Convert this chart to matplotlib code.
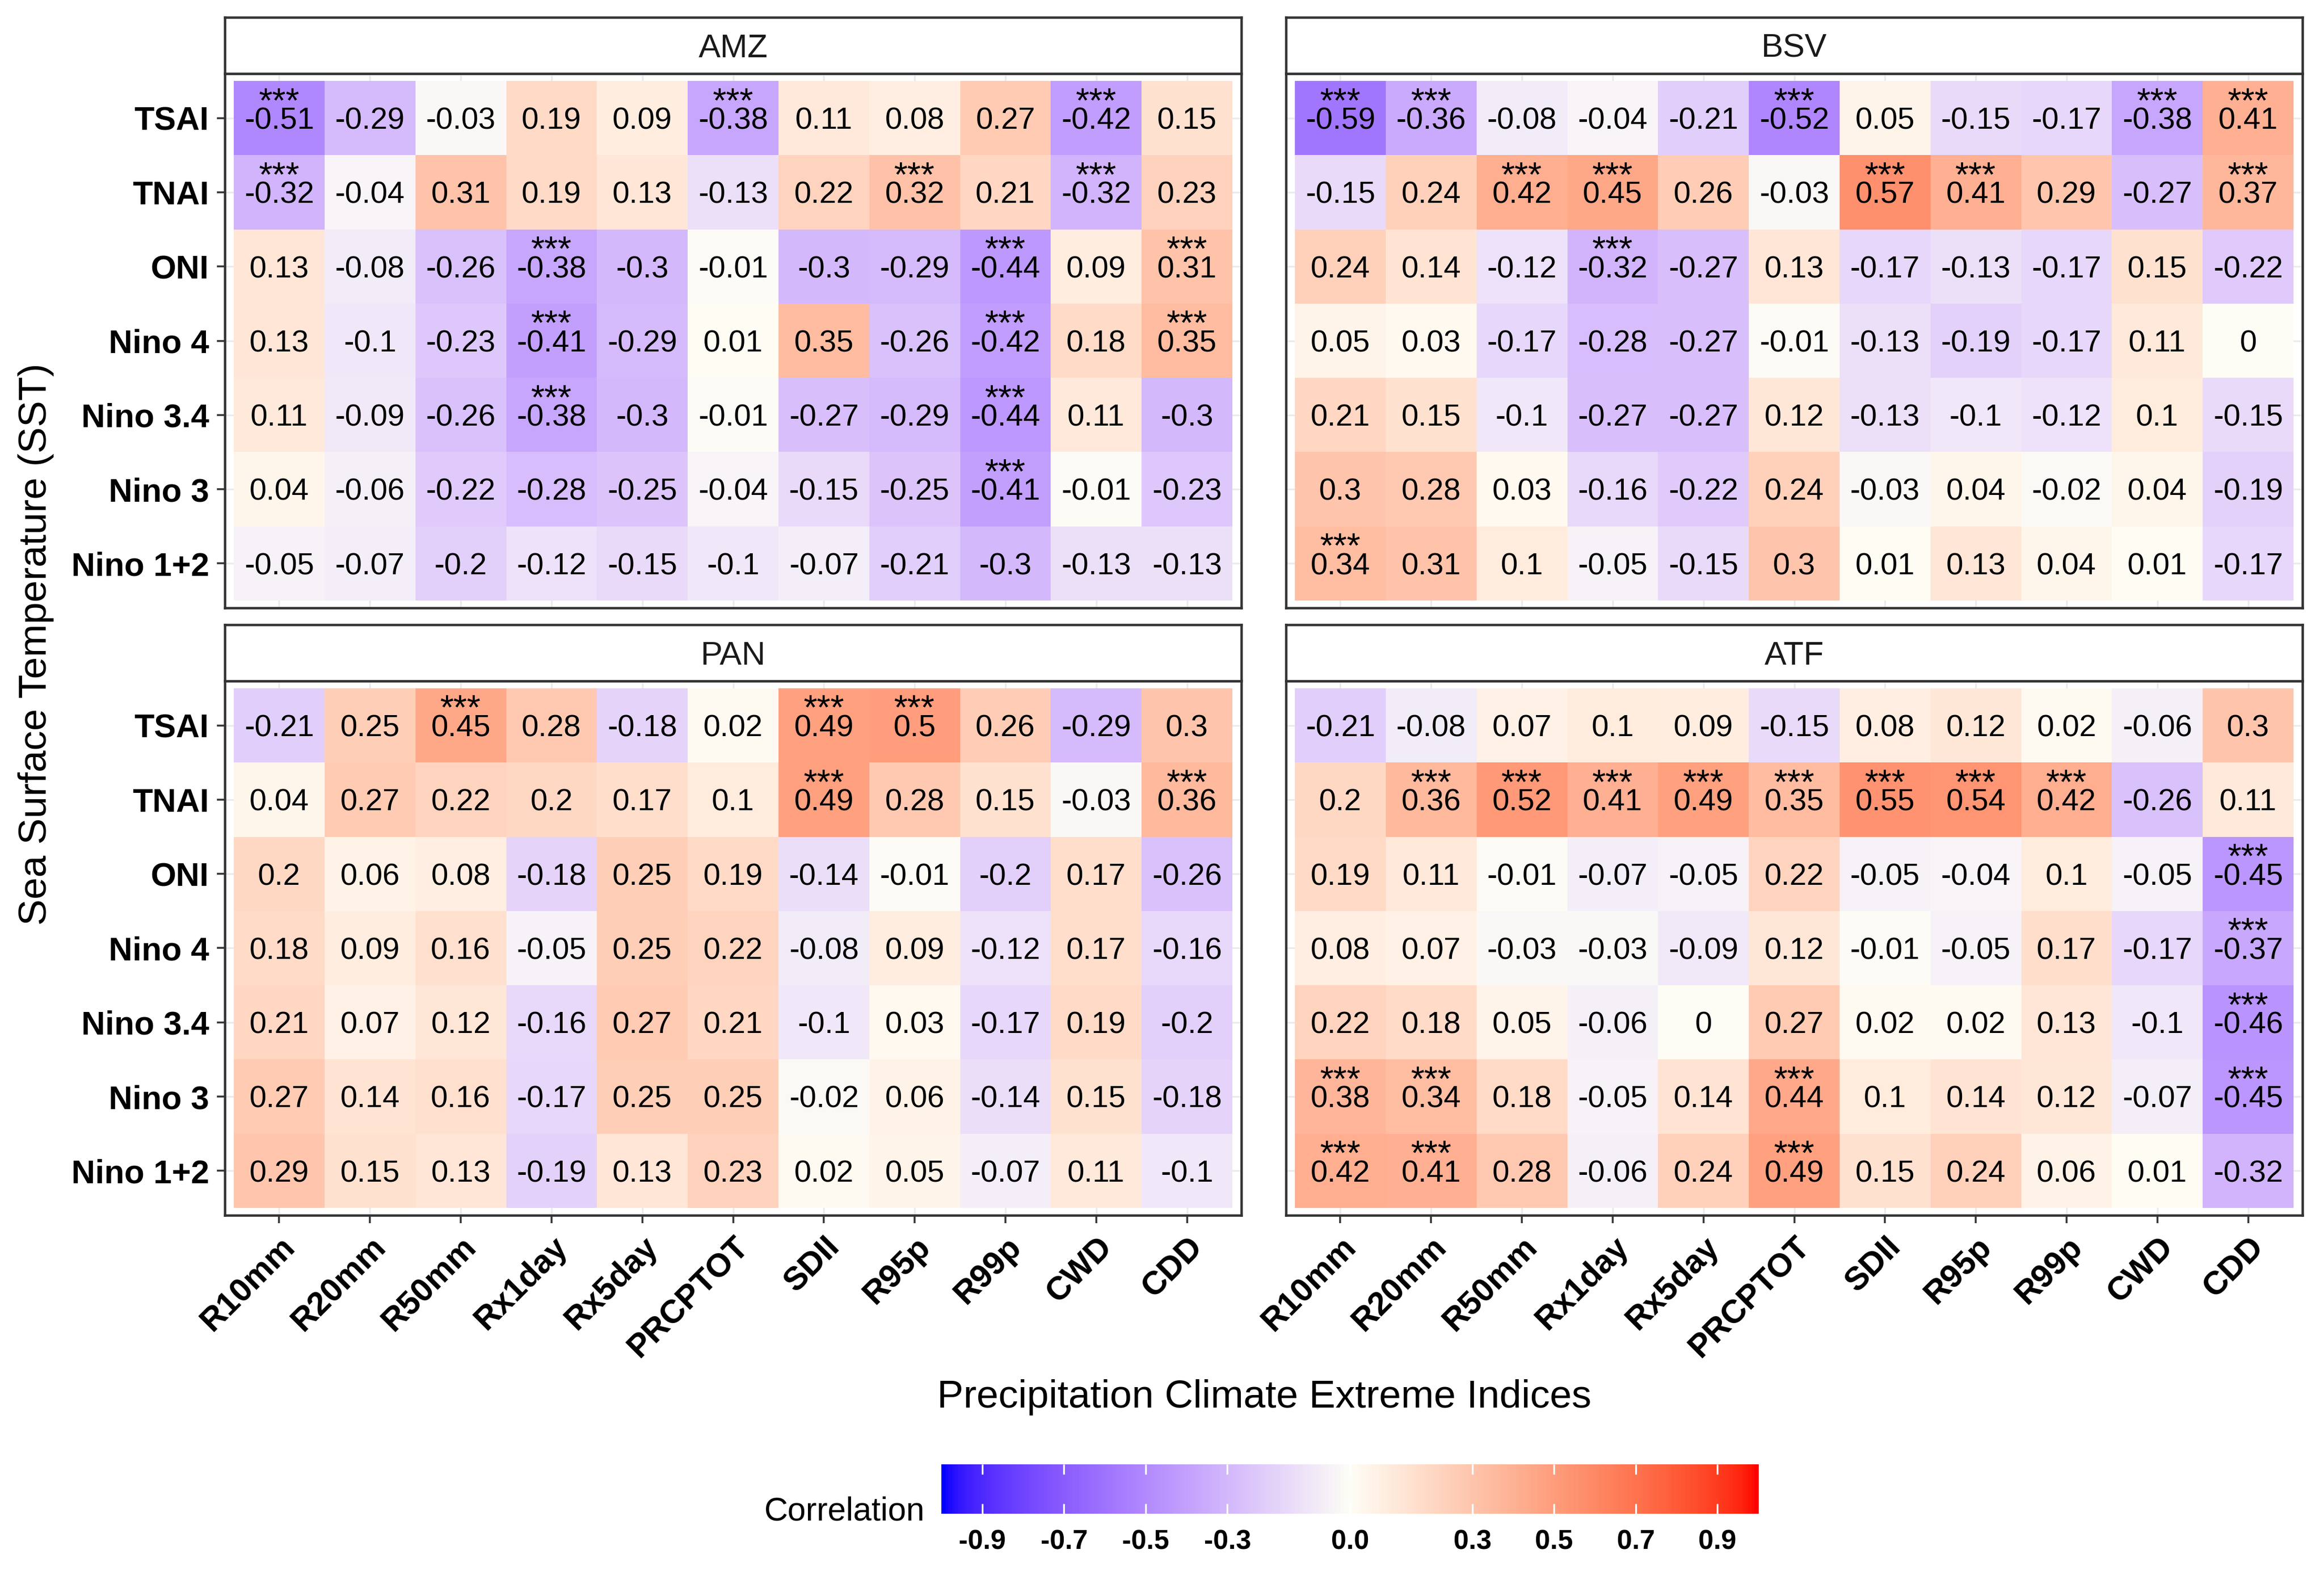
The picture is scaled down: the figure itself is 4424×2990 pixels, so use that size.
import matplotlib.pyplot as plt
import numpy as np
from matplotlib.colors import ListedColormap, Normalize, to_rgb

plt.rcParams['font.family'] = ['Liberation Sans', 'DejaVu Sans']

# Data
indices = ['R10mm', 'R20mm', 'R50mm', 'Rx1day', 'Rx5day', 'PRCPTOT',
           'SDII', 'R95p', 'R99p', 'CWD', 'CDD']
sst = ['TSAI', 'TNAI', 'ONI', 'Nino 4', 'Nino 3.4', 'Nino 3', 'Nino 1+2']
regions = ['AMZ', 'BSV', 'PAN', 'ATF']

amz = [[-0.51, -0.29, -0.03, 0.19, 0.09, -0.38, 0.11, 0.08, 0.27, -0.42, 0.15],
       [-0.32, -0.04, 0.31, 0.19, 0.13, -0.13, 0.22, 0.32, 0.21, -0.32, 0.23],
       [0.13, -0.08, -0.26, -0.38, -0.3, -0.01, -0.3, -0.29, -0.44, 0.09, 0.31],
       [0.13, -0.1, -0.23, -0.41, -0.29, 0.01, 0.35, -0.26, -0.42, 0.18, 0.35],
       [0.11, -0.09, -0.26, -0.38, -0.3, -0.01, -0.27, -0.29, -0.44, 0.11, -0.3],
       [0.04, -0.06, -0.22, -0.28, -0.25, -0.04, -0.15, -0.25, -0.41, -0.01, -0.23],
       [-0.05, -0.07, -0.2, -0.12, -0.15, -0.1, -0.07, -0.21, -0.3, -0.13, -0.13]]
amz_sig = [[1, 0, 0, 0, 0, 1, 0, 0, 0, 1, 0],
           [1, 0, 0, 0, 0, 0, 0, 1, 0, 1, 0],
           [0, 0, 0, 1, 0, 0, 0, 0, 1, 0, 1],
           [0, 0, 0, 1, 0, 0, 0, 0, 1, 0, 1],
           [0, 0, 0, 1, 0, 0, 0, 0, 1, 0, 0],
           [0, 0, 0, 0, 0, 0, 0, 0, 1, 0, 0],
           [0, 0, 0, 0, 0, 0, 0, 0, 0, 0, 0]]

bsv = [[-0.59, -0.36, -0.08, -0.04, -0.21, -0.52, 0.05, -0.15, -0.17, -0.38, 0.41],
       [-0.15, 0.24, 0.42, 0.45, 0.26, -0.03, 0.57, 0.41, 0.29, -0.27, 0.37],
       [0.24, 0.14, -0.12, -0.32, -0.27, 0.13, -0.17, -0.13, -0.17, 0.15, -0.22],
       [0.05, 0.03, -0.17, -0.28, -0.27, -0.01, -0.13, -0.19, -0.17, 0.11, 0],
       [0.21, 0.15, -0.1, -0.27, -0.27, 0.12, -0.13, -0.1, -0.12, 0.1, -0.15],
       [0.3, 0.28, 0.03, -0.16, -0.22, 0.24, -0.03, 0.04, -0.02, 0.04, -0.19],
       [0.34, 0.31, 0.1, -0.05, -0.15, 0.3, 0.01, 0.13, 0.04, 0.01, -0.17]]
bsv_sig = [[1, 1, 0, 0, 0, 1, 0, 0, 0, 1, 1],
           [0, 0, 1, 1, 0, 0, 1, 1, 0, 0, 1],
           [0, 0, 0, 1, 0, 0, 0, 0, 0, 0, 0],
           [0, 0, 0, 0, 0, 0, 0, 0, 0, 0, 0],
           [0, 0, 0, 0, 0, 0, 0, 0, 0, 0, 0],
           [0, 0, 0, 0, 0, 0, 0, 0, 0, 0, 0],
           [1, 0, 0, 0, 0, 0, 0, 0, 0, 0, 0]]

pan = [[-0.21, 0.25, 0.45, 0.28, -0.18, 0.02, 0.49, 0.5, 0.26, -0.29, 0.3],
       [0.04, 0.27, 0.22, 0.2, 0.17, 0.1, 0.49, 0.28, 0.15, -0.03, 0.36],
       [0.2, 0.06, 0.08, -0.18, 0.25, 0.19, -0.14, -0.01, -0.2, 0.17, -0.26],
       [0.18, 0.09, 0.16, -0.05, 0.25, 0.22, -0.08, 0.09, -0.12, 0.17, -0.16],
       [0.21, 0.07, 0.12, -0.16, 0.27, 0.21, -0.1, 0.03, -0.17, 0.19, -0.2],
       [0.27, 0.14, 0.16, -0.17, 0.25, 0.25, -0.02, 0.06, -0.14, 0.15, -0.18],
       [0.29, 0.15, 0.13, -0.19, 0.13, 0.23, 0.02, 0.05, -0.07, 0.11, -0.1]]
pan_sig = [[0, 0, 1, 0, 0, 0, 1, 1, 0, 0, 0],
           [0, 0, 0, 0, 0, 0, 1, 0, 0, 0, 1],
           [0, 0, 0, 0, 0, 0, 0, 0, 0, 0, 0],
           [0, 0, 0, 0, 0, 0, 0, 0, 0, 0, 0],
           [0, 0, 0, 0, 0, 0, 0, 0, 0, 0, 0],
           [0, 0, 0, 0, 0, 0, 0, 0, 0, 0, 0],
           [0, 0, 0, 0, 0, 0, 0, 0, 0, 0, 0]]

atf = [[-0.21, -0.08, 0.07, 0.1, 0.09, -0.15, 0.08, 0.12, 0.02, -0.06, 0.3],
       [0.2, 0.36, 0.52, 0.41, 0.49, 0.35, 0.55, 0.54, 0.42, -0.26, 0.11],
       [0.19, 0.11, -0.01, -0.07, -0.05, 0.22, -0.05, -0.04, 0.1, -0.05, -0.45],
       [0.08, 0.07, -0.03, -0.03, -0.09, 0.12, -0.01, -0.05, 0.17, -0.17, -0.37],
       [0.22, 0.18, 0.05, -0.06, 0, 0.27, 0.02, 0.02, 0.13, -0.1, -0.46],
       [0.38, 0.34, 0.18, -0.05, 0.14, 0.44, 0.1, 0.14, 0.12, -0.07, -0.45],
       [0.42, 0.41, 0.28, -0.06, 0.24, 0.49, 0.15, 0.24, 0.06, 0.01, -0.32]]
atf_sig = [[0, 0, 0, 0, 0, 0, 0, 0, 0, 0, 0],
           [0, 1, 1, 1, 1, 1, 1, 1, 1, 0, 0],
           [0, 0, 0, 0, 0, 0, 0, 0, 0, 0, 1],
           [0, 0, 0, 0, 0, 0, 0, 0, 0, 0, 1],
           [0, 0, 0, 0, 0, 0, 0, 0, 0, 0, 1],
           [1, 1, 0, 0, 0, 1, 0, 0, 0, 0, 1],
           [1, 1, 0, 0, 0, 1, 0, 0, 0, 0, 0]]

values = {'AMZ': amz, 'BSV': bsv, 'PAN': pan, 'ATF': atf}
signif = {'AMZ': amz_sig, 'BSV': bsv_sig, 'PAN': pan_sig, 'ATF': atf_sig}

cbar_ticks = [-0.9, -0.7, -0.5, -0.3, 0.0, 0.3, 0.5, 0.7, 0.9]
cbar_labels = ['-0.9', '-0.7', '-0.5', '-0.3', '0.0', '0.3', '0.5', '0.7', '0.9']

# Diverging blue-white-red colour scale, interpolated in Lab like ggplot
M = np.array([[0.4124564, 0.3575761, 0.1804375],
              [0.2126729, 0.7151522, 0.0721750],
              [0.0193339, 0.1191920, 0.9503041]])
WHITE = np.array([0.95047, 1.0, 1.08883])


def to_lab(col):
    c = np.array(to_rgb(col))
    lin = np.where(c <= 0.04045, c / 12.92, ((c + 0.055) / 1.055) ** 2.4)
    xyz = M @ lin / WHITE
    f = np.where(xyz > (6 / 29) ** 3, np.cbrt(xyz), xyz / (3 * (6 / 29) ** 2) + 4 / 29)
    return np.array([116 * f[1] - 16, 500 * (f[0] - f[1]), 200 * (f[1] - f[2])])


def from_lab(lab):
    L, a, b = lab
    fy = (L + 16) / 116
    f = np.array([fy + a / 500, fy, fy - b / 200])
    xyz = np.where(f > 6 / 29, f ** 3, 3 * (6 / 29) ** 2 * (f - 4 / 29)) * WHITE[:, None]
    lin = np.clip(np.linalg.inv(M) @ xyz, 0, 1)
    rgb = np.where(lin <= 0.0031308, 12.92 * lin, 1.055 * lin ** (1 / 2.4) - 0.055)
    return np.clip(rgb, 0, 1).T


stops = np.array([to_lab('#0000FF'), to_lab('#FDFEF6'), to_lab('#FF0000')])
t = np.linspace(0, 1, 256)
lab = np.array([np.interp(t, [0, 0.5, 1], stops[:, k]) for k in range(3)])
cmap = ListedColormap(from_lab(lab))
norm = Normalize(-1, 1)

fig = plt.figure(figsize=(4424 / 300, 2990 / 300), dpi=300)

pw = 0.4375
px = [0.0967, 0.5533]
py = [0.6130, 0.2264]
ph = 0.3402
sh = 0.0358
border = '#333333'

for i, reg in enumerate(regions):
    col, row = i % 2, i // 2
    ax = fig.add_axes([px[col], py[row], pw, ph])
    data = np.array(values[reg], dtype=float)
    sig = np.array(signif[reg])
    ax.pcolormesh(np.arange(12) - 0.5, np.arange(8) - 0.5, data, cmap=cmap, norm=norm,
                  shading='flat', edgecolors='none', antialiased=False, zorder=1)
    ax.set_xlim(-0.6, 10.6)
    ax.set_ylim(6.6, -0.6)
    ax.set_xticks(range(len(indices)))
    ax.set_yticks(range(len(sst)))
    ax.grid(True, color='#EBEBEB', lw=0.8, zorder=0)
    ax.set_axisbelow(True)
    for s in ax.spines.values():
        s.set_color(border)
        s.set_linewidth(1.1)
        s.set_zorder(3)

    for r in range(data.shape[0]):
        for c in range(data.shape[1]):
            ax.annotate('{:g}'.format(data[r, c]), (c, r), xytext=(0, -5),
                        textcoords='offset points', ha='center', va='baseline',
                        fontsize=14, zorder=2)
            if sig[r, c]:
                ax.annotate('***', (c, r), xytext=(0, 2.8), textcoords='offset points',
                            ha='center', va='baseline', fontsize=16, zorder=2)

    ax.tick_params(length=3.6, width=0.85, color=border, pad=3.6)
    if col == 0:
        ax.set_yticklabels(sst, fontweight='bold', fontsize=15, color='black')
    else:
        ax.tick_params(axis='y', left=False, labelleft=False)
    if row == 1:
        ax.set_xticklabels(indices, rotation=45, ha='right', va='top',
                           rotation_mode='anchor', fontweight='bold', fontsize=15,
                           color='black')
    else:
        ax.tick_params(axis='x', bottom=False, labelbottom=False)

    # strip
    sax = fig.add_axes([px[col], py[row] + ph, pw, sh])
    sax.set_xticks([])
    sax.set_yticks([])
    for s in sax.spines.values():
        s.set_color(border)
        s.set_linewidth(1.1)
    sax.annotate(reg, (0.5, 0.5), xycoords='axes fraction', xytext=(0, -5.4),
                 textcoords='offset points', ha='center', va='baseline',
                 fontsize=15, color='#1A1A1A')

# axis titles
fig.text(0.5439, 0.104, 'Precipitation Climate Extreme Indices', ha='center',
         va='baseline', fontsize=18)
fig.text(0.0155, 0.590, 'Sea Surface Temperature (SST)', rotation=90, ha='center',
         va='center', fontsize=18)

# colour bar
cax = fig.add_axes([0.4051, 0.0365, 0.3515, 0.0314])
grad = np.linspace(-1, 1, 600)[None, :]
cax.imshow(grad, aspect='auto', cmap=cmap, norm=norm, extent=[-1, 1, 0, 1])
cax.set_xlim(-1, 1)
cax.set_yticks([])
cax.set_xticks(cbar_ticks)
cax.set_xticklabels(cbar_labels, fontweight='bold', fontsize=12.5)
cax.tick_params(axis='x', direction='in', top=True, bottom=True, color='white',
                length=4.5, width=0.8, pad=7)
for s in cax.spines.values():
    s.set_visible(False)
fig.text(0.398, 0.0378, 'Correlation', ha='right', va='center', fontsize=15)

fig.savefig('out.png', dpi=300)
